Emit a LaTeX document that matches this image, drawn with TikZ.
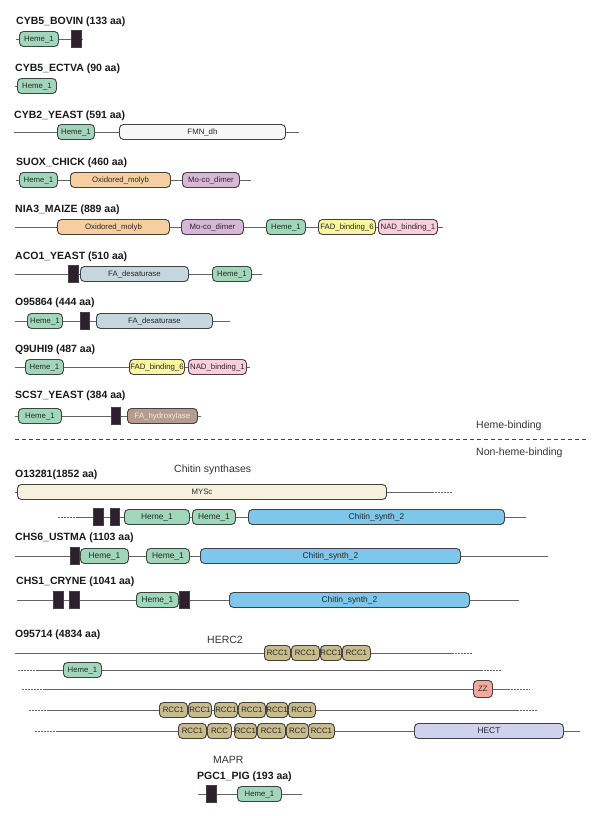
\documentclass[tikz,border=0pt]{standalone}
\usepackage{fontspec}
\setmainfont{Liberation Sans}
\definecolor{hemegreen}{RGB}{160,214,186}
\definecolor{tmdark}{RGB}{46,31,46}
\definecolor{fmnwhite}{RGB}{247,247,249}
\definecolor{molybpeach}{RGB}{247,206,160}
\definecolor{mocolilac}{RGB}{216,182,216}
\definecolor{fadyellow}{RGB}{250,246,158}
\definecolor{nadpink}{RGB}{250,206,222}
\definecolor{desatgray}{RGB}{198,214,222}
\definecolor{hydroxtaupe}{RGB}{182,156,142}
\definecolor{myscream}{RGB}{245,241,220}
\definecolor{chitinblue}{RGB}{126,198,234}
\definecolor{rcckhaki}{RGB}{200,188,140}
\definecolor{zzsalmon}{RGB}{245,168,155}
\definecolor{hectlav}{RGB}{206,210,236}
\definecolor{linegray}{RGB}{100,100,100}
\definecolor{edgegray}{RGB}{65,65,65}

\begin{document}
\begin{tikzpicture}[
    x=1pt, y=-1pt,
    dom/.style={draw=edgegray, line width=0.9pt, rounded corners=4pt, anchor=west,
        minimum height=15, inner xsep=0pt, inner ysep=0pt,
        text height=5.6pt, text depth=0pt,
        font=\fontsize{7.8}{8}\selectfont, text=black!85},
    heme/.style={dom, fill=hemegreen},
    fmn/.style={dom, fill=fmnwhite},
    molyb/.style={dom, fill=molybpeach},
    moco/.style={dom, fill=mocolilac},
    fad/.style={dom, fill=fadyellow},
    nad/.style={dom, fill=nadpink},
    desat/.style={dom, fill=desatgray},
    hydrox/.style={dom, fill=hydroxtaupe, text=white!92!black},
    mysc/.style={dom, fill=myscream},
    chitin/.style={dom, fill=chitinblue, font=\fontsize{8.4}{9}\selectfont},
    rcc/.style={dom, fill=rcckhaki},
    zz/.style={dom, fill=zzsalmon},
    hect/.style={dom, fill=hectlav, font=\fontsize{8.4}{9}\selectfont},
    tm/.style={fill=tmdark, draw=edgegray, line width=0.6pt, anchor=west,
        minimum height=17, inner sep=0pt},
    backbone/.style={linegray, line width=0.9pt},
    cont/.style={linegray, line width=0.9pt, dash pattern=on 1.5pt off 1.5pt},
    protname/.style={anchor=west, inner sep=0pt, text=black!90,
        font=\bfseries\fontsize{10.5}{12}\selectfont},
    grouplabel/.style={anchor=west, inner sep=0pt, text=black!80,
        font=\fontsize{10.5}{12}\selectfont}
]
\useasboundingbox (0,0) rectangle (600,816);

% Heme-binding proteins
\node[protname] (bovin) at (16,22) {CYB5\_BOVIN (133 aa)};
\coordinate (bovS) at (16,39);
\coordinate (bovE) at (82,39);
\node[heme, minimum width=39] (bovH) at (19,39) {Heme\_1};
\node[tm, minimum width=10] (bovT) at (71,39) {};
\draw[backbone] (bovS) -- (bovH) -- (bovT) -- (bovE);

\node[protname] (ectva) at (15,69) {CYB5\_ECTVA (90 aa)};
\coordinate (ectS) at (15,86);
\node[heme, minimum width=39] (ectH) at (17,86) {Heme\_1};
\draw[backbone] (ectS) -- (ectH);

\node[protname] (cyb2) at (14,116) {CYB2\_YEAST (591 aa)};
\coordinate (cybS) at (14,132);
\coordinate (cybE) at (299,132);
\node[heme, minimum width=37] (cybH) at (57,132) {Heme\_1};
\node[fmn, minimum width=166] (cybF) at (119,132) {FMN\_dh};
\draw[backbone] (cybS) -- (cybH) -- (cybF) -- (cybE);

\node[protname] (suox) at (16,163) {SUOX\_CHICK (460 aa)};
\coordinate (suoS) at (16,180);
\coordinate (suoE) at (251,180);
\node[heme, minimum width=38] (suoH) at (19,180) {Heme\_1};
\node[molyb, minimum width=100] (suoO) at (70,180) {Oxidored\_molyb};
\node[moco, minimum width=57] (suoM) at (182,180) {Mo-co\_dimer};
\draw[backbone] (suoS) -- (suoH) -- (suoO) -- (suoM) -- (suoE);

\node[protname] (nia3) at (15,210) {NIA3\_MAIZE (889 aa)};
\coordinate (niaS) at (15,227);
\coordinate (niaE) at (443,227);
\node[molyb, minimum width=112] (niaO) at (57,227) {Oxidored\_molyb};
\node[moco, minimum width=62] (niaM) at (181,227) {Mo-co\_dimer};
\node[heme, minimum width=39] (niaH) at (266,227) {Heme\_1};
\node[fad, minimum width=57] (niaF) at (318,227) {FAD\_binding\_6};
\node[nad, minimum width=59] (niaN) at (378,227) {NAD\_binding\_1};
\draw[backbone] (niaS) -- (niaO) -- (niaM) -- (niaH) -- (niaF) -- (niaN) -- (niaE);

\node[protname] (aco1) at (15,257) {ACO1\_YEAST (510 aa)};
\coordinate (acoS) at (15,274);
\coordinate (acoE) at (262,274);
\node[tm, minimum width=10] (acoT) at (68,274) {};
\node[desat, minimum width=108] (acoD) at (80,274) {FA\_desaturase};
\node[heme, minimum width=39] (acoH) at (212,274) {Heme\_1};
\draw[backbone] (acoS) -- (acoT) -- (acoD) -- (acoH) -- (acoE);

\node[protname] (o958) at (15,303) {O95864 (444 aa)};
\coordinate (o958S) at (15,321);
\coordinate (o958E) at (230,321);
\node[heme, minimum width=35] (o958H) at (27,321) {Heme\_1};
\node[tm, minimum width=9] (o958T) at (80,321) {};
\node[desat, minimum width=116] (o958D) at (96,321) {FA\_desaturase};
\draw[backbone] (o958S) -- (o958H) -- (o958T) -- (o958D) -- (o958E);

\node[protname] (q9uh) at (15,350) {Q9UHI9 (487 aa)};
\coordinate (q9S) at (15,367);
\coordinate (q9E) at (250,367);
\node[heme, minimum width=38] (q9H) at (25,367) {Heme\_1};
\node[fad, minimum width=55] (q9F) at (129,367) {FAD\_binding\_6};
\node[nad, minimum width=58] (q9N) at (188,367) {NAD\_binding\_1};
\draw[backbone] (q9S) -- (q9H) -- (q9F) -- (q9N) -- (q9E);

\node[protname] (scs7) at (15,396) {SCS7\_YEAST (384 aa)};
\coordinate (scsS) at (15,416);
\coordinate (scsE) at (201,416);
\node[heme, minimum width=43] (scsH) at (18,416) {Heme\_1};
\node[tm, minimum width=9] (scsT) at (111,416) {};
\node[hydrox, minimum width=70] (scsX) at (127,416) {FA\_hydroxylase};
\draw[backbone] (scsS) -- (scsH) -- (scsT) -- (scsX) -- (scsE);

% Divider
\node[grouplabel] (hemelbl) at (476,426) {Heme-binding};
\coordinate (sepL) at (15,439);
\coordinate (sepR) at (587,439);
\draw[edgegray, line width=0.8pt, dash pattern=on 4pt off 3pt] (sepL) -- (sepR);
\node[grouplabel] (nonlbl) at (476,453) {Non-heme-binding};

% Chitin synthases
\node[grouplabel] (chslbl) at (174,470) {Chitin synthases};
\node[protname] (o132) at (15,475) {O13281(1852 aa)};
\coordinate (myS) at (15,492);
\coordinate (myE) at (432,492);
\coordinate (myF) at (452,492);
\node[mysc, minimum width=369] (myM) at (17,492) {MYSc};
\draw[backbone] (myS) -- (myM) -- (myE);
\draw[cont] (myE) -- (myF);

\coordinate (o132D) at (58,517);
\coordinate (o132S) at (77,517);
\coordinate (o132E) at (526,517);
\node[tm, minimum width=10] (o132T1) at (93,517) {};
\node[tm, minimum width=9] (o132T2) at (110,517) {};
\node[heme, minimum width=65, font=\fontsize{8.4}{9}\selectfont] (o132H1) at (124,517) {Heme\_1};
\node[heme, minimum width=43, font=\fontsize{8.4}{9}\selectfont] (o132H2) at (192,517) {Heme\_1};
\node[chitin, minimum width=256] (o132C) at (248,517) {Chitin\_synth\_2};
\draw[cont] (o132D) -- (o132S);
\draw[backbone] (o132S) -- (o132T1) -- (o132T2) -- (o132H1) -- (o132H2) -- (o132C) -- (o132E);

\node[protname] (chs6) at (15,538) {CHS6\_USTMA (1103 aa)};
\coordinate (chs6S) at (15,556);
\coordinate (chs6E) at (548,556);
\node[tm, minimum width=9] (chs6T) at (70,556) {};
\node[heme, minimum width=48, font=\fontsize{8.4}{9}\selectfont] (chs6H1) at (80,556) {Heme\_1};
\node[heme, minimum width=43, font=\fontsize{8.4}{9}\selectfont] (chs6H2) at (146,556) {Heme\_1};
\node[chitin, minimum width=260] (chs6C) at (200,556) {Chitin\_synth\_2};
\draw[backbone] (chs6S) -- (chs6T) -- (chs6H1) -- (chs6H2) -- (chs6C) -- (chs6E);

\node[protname] (chs1) at (16,582) {CHS1\_CRYNE (1041 aa)};
\coordinate (chs1S) at (17,600);
\coordinate (chs1E) at (519,600);
\node[tm, minimum width=10] (chs1T1) at (53,600) {};
\node[tm, minimum width=10] (chs1T2) at (69,600) {};
\node[heme, minimum width=42, font=\fontsize{8.4}{9}\selectfont] (chs1H) at (136,600) {Heme\_1};
\node[tm, minimum width=10] (chs1T3) at (179,600) {};
\node[chitin, minimum width=240] (chs1C) at (229,600) {Chitin\_synth\_2};
\draw[backbone] (chs1S) -- (chs1T1) -- (chs1T2) -- (chs1H) -- (chs1T3) -- (chs1C) -- (chs1E);

% HERC2
\node[protname] (o957) at (15,635) {O95714 (4834 aa)};
\node[grouplabel] (herclbl) at (207,640) {HERC2};

\coordinate (hcaS) at (15,653);
\coordinate (hcaE) at (452,653);
\coordinate (hcaF) at (473,653);
\node[rcc, minimum width=26] (hcaR1) at (264,653) {RCC1};
\node[rcc, minimum width=28] (hcaR2) at (291,653) {RCC1};
\node[rcc, minimum width=21] (hcaR3) at (320,653) {RCC1};
\node[rcc, minimum width=28] (hcaR4) at (342,653) {RCC1};
\draw[backbone] (hcaS) -- (hcaR1) -- (hcaR2) -- (hcaR3) -- (hcaR4) -- (hcaE);
\draw[cont] (hcaE) -- (hcaF);

\coordinate (hcbD) at (18,670);
\coordinate (hcbS) at (38,670);
\coordinate (hcbE) at (481,670);
\coordinate (hcbF) at (502,670);
\node[heme, minimum width=38] (hcbH) at (63,670) {Heme\_1};
\draw[cont] (hcbD) -- (hcbS);
\draw[backbone] (hcbS) -- (hcbH) -- (hcbE);
\draw[cont] (hcbE) -- (hcbF);

\coordinate (hccD) at (22,689);
\coordinate (hccS) at (43,689);
\coordinate (hccE) at (508,689);
\coordinate (hccF) at (530,689);
\node[zz, minimum width=19, minimum height=17] (hccZ) at (473,689) {ZZ};
\draw[cont] (hccD) -- (hccS);
\draw[backbone] (hccS) -- (hccZ) -- (hccE);
\draw[cont] (hccE) -- (hccF);

\coordinate (hcdD) at (29,710);
\coordinate (hcdS) at (49,710);
\coordinate (hcdE) at (517,710);
\coordinate (hcdF) at (538,710);
\node[rcc, minimum width=28] (hcdR1) at (159,710) {RCC1};
\node[rcc, minimum width=23] (hcdR2) at (188,710) {RCC1};
\node[rcc, minimum width=23] (hcdR3) at (214,710) {RCC1};
\node[rcc, minimum width=27] (hcdR4) at (238,710) {RCC1};
\node[rcc, minimum width=21] (hcdR5) at (266,710) {RCC1};
\node[rcc, minimum width=27] (hcdR6) at (288,710) {RCC1};
\draw[cont] (hcdD) -- (hcdS);
\draw[backbone] (hcdS) -- (hcdR1) -- (hcdR2) -- (hcdR3) -- (hcdR4) -- (hcdR5) -- (hcdR6) -- (hcdE);
\draw[cont] (hcdE) -- (hcdF);

\coordinate (hceD) at (35,731);
\coordinate (hceS) at (56,731);
\coordinate (hceE) at (580,731);
\node[rcc, minimum width=28] (hceR1) at (178,731) {RCC1};
\node[rcc, minimum width=24] (hceR2) at (207,731) {RCC};
\node[rcc, minimum width=22] (hceR3) at (234,731) {RCC1};
\node[rcc, minimum width=28] (hceR4) at (257,731) {RCC1};
\node[rcc, minimum width=22] (hceR5) at (286,731) {RCC};
\node[rcc, minimum width=26] (hceR6) at (308,731) {RCC1};
\node[hect, minimum width=149] (hceH) at (414,731) {HECT};
\draw[cont] (hceD) -- (hceS);
\draw[backbone] (hceS) -- (hceR1) -- (hceR2) -- (hceR3) -- (hceR4) -- (hceR5) -- (hceR6) -- (hceH) -- (hceE);

% MAPR
\node[grouplabel] (maprlbl) at (213,760) {MAPR};
\node[protname] (pgc1) at (197,777) {PGC1\_PIG (193 aa)};
\coordinate (pgcS) at (198,794);
\coordinate (pgcE) at (302,794);
\node[tm, minimum width=10] (pgcT) at (206,794) {};
\node[heme, minimum width=44] (pgcH) at (237,794) {Heme\_1};
\draw[backbone] (pgcS) -- (pgcT) -- (pgcH) -- (pgcE);

\end{tikzpicture}
\end{document}
